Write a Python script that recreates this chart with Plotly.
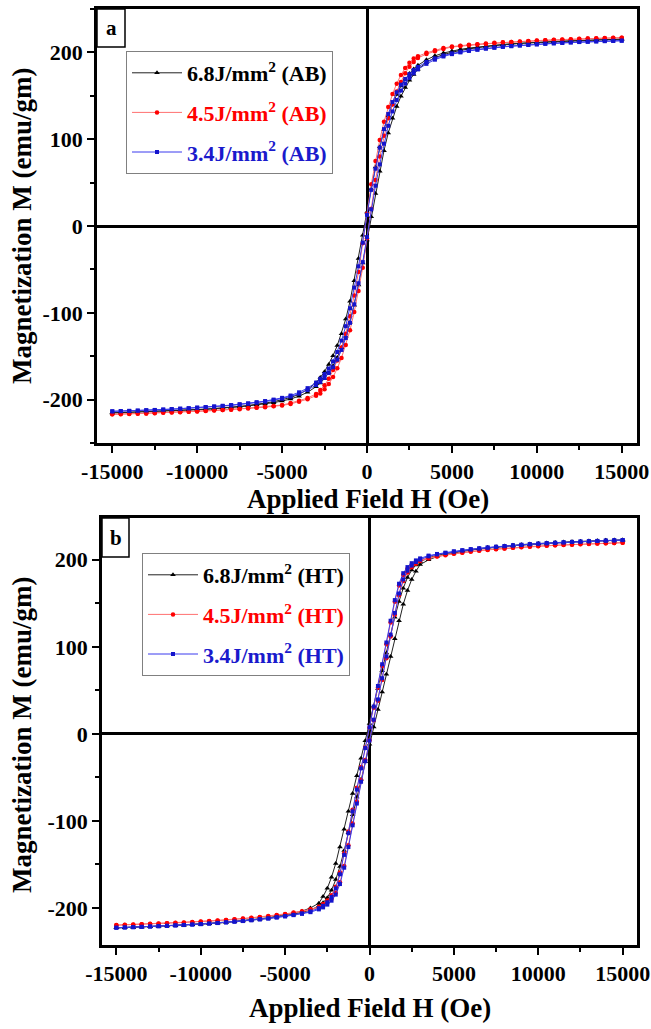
import plotly.graph_objects as go

# ---------------- data ----------------
# Applied field grid (Oe); values below are the descending (upper) branch of each loop
H_field = [-15000, -14500, -14000, -13500, -13000, -12500, -12000, -11500, -11000, -10500,
           -10000, -9500, -9000, -8500, -8000, -7500, -7000, -6500, -6000, -5500,
           -5000, -4500, -4000, -3500, -3000,
           -2750, -2500, -2250, -2000, -1750, -1500, -1250, -1000, -750, -500, -250, 0,
           250, 500, 750, 1000, 1250, 1500, 1750, 2000, 2250, 2500, 2750,
           3000, 3500, 4000, 4500, 5000, 5500, 6000, 6500, 7000, 7500,
           8000, 8500, 9000, 9500, 10000, 10500, 11000, 11500, 12000, 12500,
           13000, 13500, 14000, 14500, 15000]

# Panel a (as-built, AB)
M_68_AB = [-215.2, -214.9, -214.6, -214.3, -213.9, -213.6, -213.2, -212.9, -212.4, -211.9,
           -211.4, -210.9, -210.3, -209.6, -208.8, -207.8, -206.7, -205.6, -204.0, -202.4,
           -200.3, -197.6, -193.8, -188.4, -180.6,
           -174.4, -167.8, -159.6, -149.4, -137.8, -124.0, -107.2, -86.8, -63.0, -37.4, -10.8, 16.2,
           42.6, 68.0, 91.2, 110.8, 127.0, 140.2, 151.6, 161.4, 169.2, 175.6, 181.0,
           185.1, 191.5, 196.0, 199.3, 201.6, 203.5, 205.0, 206.3, 207.3, 208.3,
           209.2, 210.0, 210.6, 211.2, 211.7, 212.2, 212.6, 213.1, 213.4, 213.8,
           214.1, 214.5, 214.8, 215.1, 215.3]
M_45_AB = [-216.9, -216.7, -216.4, -216.1, -215.9, -215.4, -214.9, -214.7, -214.4, -213.9,
           -213.4, -212.9, -212.4, -211.9, -211.4, -210.6, -209.8, -209.1, -208.3, -207.3,
           -206.2, -204.0, -201.4, -198.2, -193.5,
           -189.0, -183.5, -176.0, -166.0, -155.0, -140.0, -124.0, -104.0, -80.0, -53.0, -20.0, 14.0,
           48.0, 75.0, 99.0, 120.0, 137.0, 152.0, 164.0, 174.0, 182.0, 188.0, 193.0,
           195.5, 199.5, 202.5, 205.0, 206.7, 207.8, 208.7, 209.5, 210.2, 211.0,
           211.6, 212.1, 212.6, 213.1, 213.6, 214.1, 214.5, 214.9, 215.1, 215.6,
           216.0, 216.3, 216.6, 216.8, 217.0]
M_34_AB = [-213.5, -213.2, -212.9, -212.6, -212.2, -211.9, -211.4, -210.9, -210.4, -209.9,
           -209.2, -208.6, -207.9, -207.1, -206.3, -205.3, -204.3, -203.0, -201.7, -200.0,
           -198.0, -195.3, -191.6, -186.8, -180.4,
           -176.0, -170.6, -164.2, -156.0, -145.2, -132.0, -115.4, -94.8, -71.0, -46.4, -19.2, 12.8,
           41.6, 66.0, 90.2, 111.6, 129.0, 142.8, 154.0, 162.8, 169.4, 175.0, 179.6,
           183.2, 189.0, 193.2, 196.5, 198.9, 200.7, 202.3, 203.5, 204.7, 205.7,
           206.7, 207.4, 208.1, 208.8, 209.4, 210.1, 210.6, 211.1, 211.6, 212.1,
           212.4, 212.8, 213.1, 213.3, 213.5]

# Panel b (heat treated, HT)
M_68_HT = [-222.7, -222.4, -222.1, -221.7, -221.3, -220.9, -220.5, -219.9, -219.4, -218.9,
           -218.3, -217.7, -216.9, -216.2, -215.3, -214.4, -213.5, -212.3, -211.1, -209.6,
           -207.9, -205.9, -203.6, -199.9, -194.5,
           -186.8, -177.4, -164.6, -148.8, -130.0, -109.4, -89.0, -68.4, -48.0, -28.0, -8.0, 12.0,
           32.0, 52.0, 72.6, 93.0, 113.6, 134.0, 152.2, 167.4, 179.6, 188.2, 194.0,
           197.7, 202.4, 205.1, 207.1, 209.0, 210.5, 211.9, 213.0, 214.1, 215.0,
           215.8, 216.6, 217.4, 218.1, 218.7, 219.3, 219.8, 220.3, 220.7, 221.1,
           221.5, 221.9, 222.3, 222.6, 222.8]
M_45_HT = [-219.6, -219.3, -218.9, -218.6, -218.2, -217.8, -217.4, -217.0, -216.6, -216.1,
           -215.6, -215.0, -214.4, -213.7, -212.9, -212.2, -211.3, -210.3, -209.3, -208.1,
           -206.8, -205.3, -203.7, -201.5, -198.6,
           -195.4, -191.4, -185.4, -175.5, -159.3, -137.0, -112.0, -87.0, -62.0, -38.0, -15.6, 7.4,
           30.0, 53.0, 78.0, 103.0, 128.0, 151.7, 170.5, 182.6, 189.6, 194.1, 197.3,
           199.5, 202.3, 204.2, 205.7, 207.2, 208.5, 209.7, 210.7, 211.6, 212.4,
           213.1, 213.9, 214.6, 215.2, 215.8, 216.3, 216.8, 217.2, 217.6, 218.0,
           218.4, 218.7, 219.1, 219.4, 219.7]
M_34_HT = [-222.6, -222.3, -221.9, -221.6, -221.2, -220.8, -220.4, -219.9, -219.4, -218.9,
           -218.4, -217.8, -217.1, -216.4, -215.6, -214.8, -213.8, -212.8, -211.8, -210.6,
           -209.3, -207.8, -206.2, -203.9, -200.2,
           -197.4, -193.4, -187.4, -177.5, -161.3, -139.0, -114.0, -89.0, -64.0, -39.6, -16.3, 7.7,
           31.4, 55.0, 80.0, 105.0, 130.0, 153.7, 172.5, 184.6, 191.6, 196.1, 199.3,
           201.6, 204.8, 206.7, 208.2, 209.7, 211.0, 212.2, 213.2, 214.2, 215.0,
           215.8, 216.6, 217.3, 218.0, 218.6, 219.1, 219.6, 220.1, 220.6, 221.0,
           221.4, 221.7, 222.1, 222.4, 222.7]

labels_a = ["6.8J/mm<sup>2</sup> (AB)", "4.5J/mm<sup>2</sup> (AB)", "3.4J/mm<sup>2</sup> (AB)"]
labels_b = ["6.8J/mm<sup>2</sup> (HT)", "4.5J/mm<sup>2</sup> (HT)", "3.4J/mm<sup>2</sup> (HT)"]
x_ticks = [-15000, -10000, -5000, 0, 5000, 10000, 15000]
x_ticktext = ["-15000", "-10000", "-5000", "0", "5000", "10000", "15000"]
y_ticks = [-200, -100, 0, 100, 200]
y_ticktext = ["-200", "-100", "0", "100", "200"]

# ---------------- styling ----------------
W, HT = 651, 1029
FONT = "Liberation Serif"
line_cols = ["#222222", "#ff7070", "#3a3aee"]
mark_cols = ["#000000", "#ff0000", "#1414cc"]
text_cols = ["#000000", "#ff0000", "#1a1acc"]
symbols = ["triangle-up", "circle", "square"]
msizes = [5, 4.5, 4]


def px(xp):
    return xp / W


def py(yp):
    return 1 - yp / HT


def loop(upper):
    # descending branch then ascending (return) branch of the measured loop
    xs = H_field[::-1] + H_field
    ys = upper[::-1] + [-v for v in upper[::-1]]
    return xs, ys


fig = go.Figure()
for panel, (series, labels, xa, ya, lg) in enumerate([
        ([M_68_AB, M_45_AB, M_34_AB], labels_a, "x", "y", "legend"),
        ([M_68_HT, M_45_HT, M_34_HT], labels_b, "x2", "y2", "legend2")]):
    for i, (m, lab) in enumerate(zip(series, labels)):
        xs, ys = loop(m)
        fig.add_trace(go.Scatter(
            x=xs, y=ys, xaxis=xa, yaxis=ya, mode="lines+markers",
            name=f'<span style="color:{text_cols[i]}">{lab}</span>',
            line=dict(color=line_cols[i], width=1),
            marker=dict(color=mark_cols[i], symbol=symbols[i], size=msizes[i], line=dict(width=0)),
            legend=lg, legendgroup=f"{panel}-{i}"))

tickfont = dict(family=FONT, size=22, color="black", weight="bold")
common_x = dict(tickvals=x_ticks, ticktext=x_ticktext, ticks="outside", ticklen=7, tickwidth=2,
                tickcolor="black",
                minor=dict(ticks="outside", ticklen=4, tickwidth=2, tickcolor="black", dtick=2500),
                showline=True, linewidth=2.5, linecolor="black", mirror=True,
                zeroline=True, zerolinecolor="black", zerolinewidth=2.5, showgrid=False,
                tickfont=tickfont, automargin=False)
common_y = dict(tickvals=y_ticks, ticktext=y_ticktext, ticks="outside", ticklen=7, tickwidth=2,
                tickcolor="black",
                minor=dict(ticks="outside", ticklen=4, tickwidth=2, tickcolor="black", dtick=50),
                showline=True, linewidth=2.5, linecolor="black", mirror=True,
                zeroline=True, zerolinecolor="black", zerolinewidth=2.5, showgrid=False,
                tickfont=tickfont, automargin=False)

legfont = dict(family=FONT, size=22, color="black", weight="bold")
fig.update_layout(
    width=W, height=HT, margin=dict(l=0, r=0, t=0, b=0),
    paper_bgcolor="white", plot_bgcolor="white",
    xaxis=dict(domain=[px(97), px(637)], anchor="y", range=[-15900, 15900], **common_x),
    yaxis=dict(domain=[py(443), py(9)], anchor="x", range=[-250, 250], **common_y),
    xaxis2=dict(domain=[px(102), px(637)], anchor="y2", range=[-15850, 15850], **common_x),
    yaxis2=dict(domain=[py(945), py(518)], anchor="x2", range=[-242.5, 248], **common_y),
    legend=dict(x=px(126), y=py(51), xanchor="left", yanchor="top", bgcolor="white",
                bordercolor="#808080", borderwidth=1, font=legfont, tracegroupgap=8,
                itemwidth=50),
    legend2=dict(x=px(142), y=py(553), xanchor="left", yanchor="top", bgcolor="white",
                 bordercolor="#808080", borderwidth=1, font=legfont, tracegroupgap=8,
                 itemwidth=50),
    showlegend=True,
)

# panel label boxes
for (x0, y0, x1, y1, t) in [(97, 9, 125, 47, "a"), (102, 518, 129, 557, "b")]:
    fig.add_shape(type="rect", xref="paper", yref="paper", x0=px(x0), x1=px(x1),
                  y0=py(y1), y1=py(y0), line=dict(color="black", width=1.5),
                  fillcolor="white")
    fig.add_annotation(xref="paper", yref="paper", x=px((x0 + x1) / 2), y=py((y0 + y1) / 2),
                       text=t, showarrow=False, xanchor="center", yanchor="middle",
                       font=dict(family=FONT, size=21, color="black", weight="bold"))

# axis titles
title_font = dict(family=FONT, size=27, color="black", weight="bold")
for yc in [226, 735]:
    fig.add_annotation(xref="paper", yref="paper", x=px(22), y=py(yc), text="Magnetization M (emu/gm)",
                       textangle=-90, showarrow=False, xanchor="center", yanchor="middle",
                       font=title_font)
for (xc, yc) in [(368, 499), (370, 1008)]:
    fig.add_annotation(xref="paper", yref="paper", x=px(xc), y=py(yc), text="Applied Field H (Oe)",
                       showarrow=False, xanchor="center", yanchor="middle", font=title_font)

fig.write_html("out.html", config={"displayModeBar": False},
               post_script="document.body.style.margin='0px';document.body.style.overflow='hidden';")
